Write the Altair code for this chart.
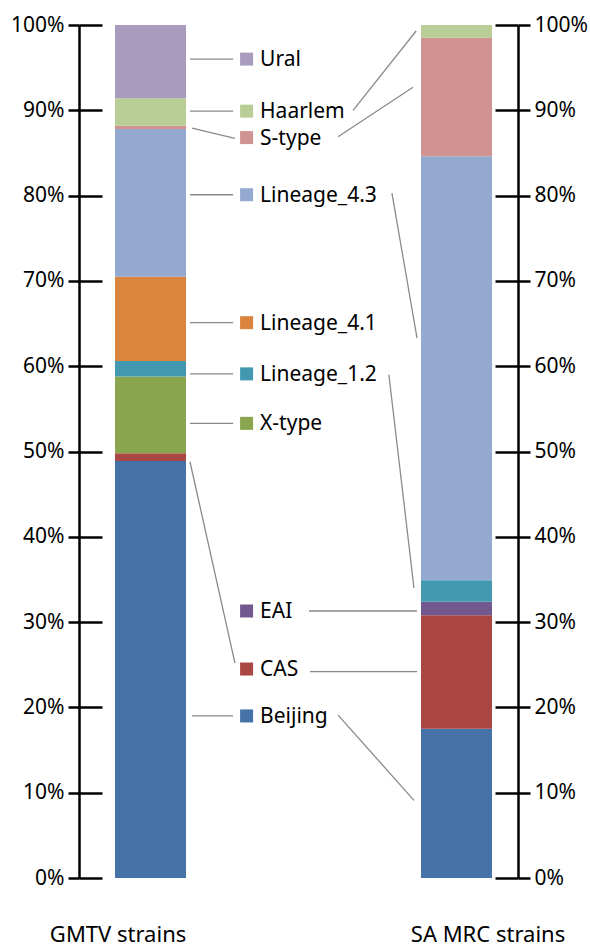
import altair as alt
import pandas as pd

# ---- data ----
strains = ["GMTV strains", "SA MRC strains"]
strain_pos = [0, 1]
categories = ["Beijing", "CAS", "X-type", "EAI", "Lineage_1.2",
              "Lineage_4.1", "Lineage_4.3", "S-type", "Haarlem", "Ural"]
gmtv_values = [48.9, 0.9, 9.0, 0.0, 1.8, 9.9, 17.3, 0.4, 3.2, 8.6]
samrc_values = [17.5, 13.3, 0.0, 1.6, 2.5, 0.0, 49.7, 13.9, 1.5, 0.0]
colors = ["#4572A7", "#AA4643", "#89A54E", "#71588F", "#4198AF",
          "#DB843D", "#93A9CF", "#D19392", "#B9CD96", "#A99BBD"]
tick_values = [0, 10, 20, 30, 40, 50, 60, 70, 80, 90, 100]

# ---- label (leader-line legend) layout, in data units ----
label_names = ["Ural", "Haarlem", "S-type", "Lineage_4.3", "Lineage_4.1",
               "Lineage_1.2", "X-type", "EAI", "CAS", "Beijing"]
label_y = [96.0, 89.9, 86.8, 80.1, 65.1, 59.1, 53.3, 31.3, 24.5, 19.0]
square_x = 0.314
text_x = 0.358

# leader lines: (x1, y1, x2, y2) in (strain-position units, percent)
line_x1 = [0.129, 0.129, 0.136, 0.129, 0.129, 0.129, 0.129, 0.129, 0.136,
           0.662, 0.613, 0.789, 0.779, 0.518, 0.521, 0.613]
line_y1 = [96.0, 89.9, 87.9, 80.1, 65.1, 59.1, 53.3, 48.8, 19.0,
           90.0, 86.9, 80.3, 59.0, 31.3, 24.2, 19.1]
line_x2 = [0.270, 0.270, 0.276, 0.270, 0.270, 0.270, 0.270, 0.276, 0.270,
           0.868, 0.858, 0.871, 0.861, 0.871, 0.871, 0.861]
line_y2 = [96.0, 89.9, 86.7, 80.1, 65.1, 59.1, 53.3, 25.2, 19.0,
           99.3, 92.7, 63.3, 34.0, 31.3, 24.2, 9.1]

bottom_label_x = [-0.106, 1.103]
bottom_label_y = -6.7

# ---- tables ----
rows = []
for s, p, vals in zip(strains, strain_pos, [gmtv_values, samrc_values]):
    for i, (c, v) in enumerate(zip(categories, vals)):
        rows.append({"strain": s, "pos": p, "category": c, "value": v, "order": i})
bars_df = pd.DataFrame(rows)
labels_df = pd.DataFrame({"category": label_names, "y": label_y})
lines_df = pd.DataFrame({"x1": line_x1, "y1": line_y1, "x2": line_x2, "y2": line_y2})
bottom_df = pd.DataFrame({"strain": strains, "x": bottom_label_x})

FONT = "Noto Sans"
W, H = 439, 853

xscale = alt.Scale(domain=[-0.2337, 1.201], nice=False, zero=False, padding=0)
yscale = alt.Scale(domain=[0, 100], nice=False, zero=True)
color = alt.Color("category:N", scale=alt.Scale(domain=categories, range=colors), legend=None)

common_axis = dict(values=tick_values, grid=False, title=None, tickColor="black",
                   tickWidth=2.5, domainColor="black", domainWidth=2.5,
                   labelFont=FONT, labelFontSize=21, labelColor="black",
                   labelFlush=False, labelOverlap=False)

left_axis = alt.Axis(orient="left", tickSize=11, labelPadding=4,
                     labelExpr="datum.value + '%'", **common_axis)
left_inner = alt.Axis(orient="right", offset=-W, tickSize=23, labels=False,
                      domain=False, **common_axis)
right_axis = alt.Axis(orient="right", tickSize=12, labelPadding=4,
                      labelExpr="datum.value + '%'", **common_axis)
right_inner = alt.Axis(orient="left", offset=-W, tickSize=23, labels=False,
                       domain=False, **common_axis)

bars = alt.Chart(bars_df).mark_bar(size=71, orient="vertical").encode(
    x=alt.X("pos:Q", scale=xscale, axis=None),
    y=alt.Y("value:Q", stack="zero", scale=yscale, axis=left_axis),
    color=color,
    order=alt.Order("order:Q"),
)

lines = alt.Chart(lines_df).mark_rule(color="#8a8a8a", strokeWidth=1.3).encode(
    x=alt.X("x1:Q", scale=xscale, axis=None),
    x2="x2:Q",
    y=alt.Y("y1:Q", scale=yscale, axis=left_inner),
    y2="y2:Q",
)

squares = alt.Chart(labels_df).mark_square(size=169, opacity=1).encode(
    x=alt.datum(square_x, scale=xscale, axis=None),
    y=alt.Y("y:Q", scale=yscale, axis=right_axis),
    color=color,
)

texts = alt.Chart(labels_df).mark_text(
    align="left", baseline="middle", font=FONT, fontSize=21, color="black", dy=1
).encode(
    x=alt.datum(text_x, scale=xscale, axis=None),
    y=alt.Y("y:Q", scale=yscale, axis=right_inner),
    text="category:N",
)

bottom = alt.Chart(bottom_df).mark_text(
    align="center", baseline="middle", font=FONT, fontSize=22, color="black"
).encode(
    x=alt.X("x:Q", scale=xscale, axis=None),
    y=alt.datum(bottom_label_y, scale=yscale, axis=None),
    text="strain:N",
)

chart = alt.layer(bars, lines, squares, texts, bottom).resolve_axis(
    y="independent"
).properties(
    width=W, height=H,
    autosize="none",
    padding={"left": 79, "top": 25, "right": 72, "bottom": 69},
    background="white",
).configure_view(stroke=None)

chart.save("out.html", embed_options={"renderer": "svg", "actions": False})
